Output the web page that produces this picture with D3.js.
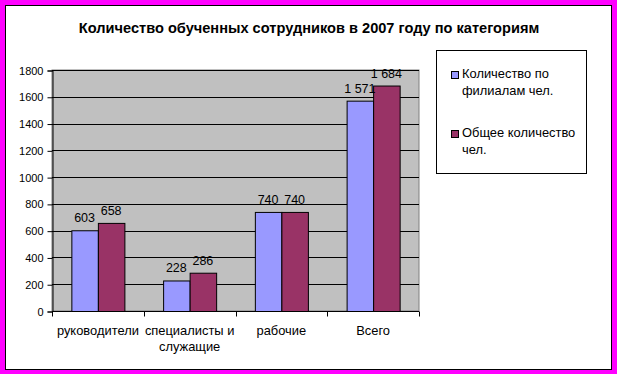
<!DOCTYPE html>
<html>
<head>
<meta charset="utf-8">
<script src="https://cdn.jsdelivr.net/npm/d3@7"></script>
<style>
    body { margin: 0; background: #ff00ff; }
    svg text { font-family: "Liberation Sans", Arial, sans-serif; fill: #000; }
</style>
</head>
<body>
<div id="chart"></div>
<script>
var categories = ["руководители", "специалисты и служащие", "рабочие", "Всего"];
var seriesNames = ["Количество по филиалам чел.", "Общее количество чел."];
var branchValues = [603, 228, 740, 1571];
var totalValues = [658, 286, 740, 1684];
var yTicks = [0, 200, 400, 600, 800, 1000, 1200, 1400, 1600, 1800];
var colors = ["#9999ff", "#993366"];

var W = 617, H = 374;
var plot = { left: 52, right: 419, top: 70, bottom: 311 };

var svg = d3.select("#chart").append("svg")
    .attr("width", W)
    .attr("height", H);

// magenta frame + white chart area
svg.append("rect").attr("width", W).attr("height", H).attr("fill", "#ff00ff");
svg.append("rect")
    .attr("x", 5.5).attr("y", 5.5)
    .attr("width", 606).attr("height", 364)
    .attr("fill", "#fff").attr("stroke", "#000");

svg.append("text")
    .attr("x", 309).attr("y", 33)
    .attr("text-anchor", "middle")
    .style("font-size", "14.6px")
    .style("font-weight", "bold")
    .text("Количество обученных сотрудников в 2007 году по категориям");

var y = d3.scaleLinear().domain([0, 1800]).range([plot.bottom, plot.top]);
var x0 = d3.scaleBand().domain(categories).range([plot.left, plot.right]);
var x1 = d3.scaleBand().domain([0, 1]).range([0, x0.bandwidth()])
    .paddingInner(0).paddingOuter(0.73);

var fmt = d3.formatLocale({ decimal: ",", thousands: " ", grouping: [3], currency: ["", ""] }).format(",d");

svg.append("rect")
    .attr("x", plot.left).attr("y", plot.top)
    .attr("width", plot.right - plot.left).attr("height", plot.bottom - plot.top)
    .attr("fill", "#c0c0c0").attr("stroke", "#808080");

// gridlines
svg.append("g").selectAll("line")
    .data(yTicks.slice(1))
  .enter().append("line")
    .attr("x1", plot.left).attr("x2", plot.right)
    .attr("y1", function(d) { return Math.round(y(d)) + 0.5; })
    .attr("y2", function(d) { return Math.round(y(d)) + 0.5; })
    .attr("stroke", "#000");

var yAxis = svg.append("g")
    .attr("transform", "translate(" + (plot.left + 0.5) + ",0.5)")
    .call(d3.axisLeft(y).tickValues(yTicks).tickSize(5).tickPadding(4).tickFormat(d3.format("d")));
yAxis.selectAll("text").style("font-size", "11px");

var xAxis = svg.append("g")
    .attr("transform", "translate(0," + (plot.bottom + 0.5) + ")");
xAxis.append("line")
    .attr("x1", plot.left).attr("x2", plot.right)
    .attr("stroke", "#000");
xAxis.selectAll("line.tick")
    .data(categories.concat([null]))
  .enter().append("line")
    .attr("class", "tick")
    .attr("x1", function(d, i) { return Math.round(plot.left + i * x0.step()) + 0.5; })
    .attr("x2", function(d, i) { return Math.round(plot.left + i * x0.step()) + 0.5; })
    .attr("y1", 0).attr("y2", 5)
    .attr("stroke", "#000");
svg.selectAll(".domain").attr("stroke", "#000");

function wrap(sel, width, lineHeight) {
    sel.each(function() {
        var text = d3.select(this);
        var words = text.text().split(/\s+/);
        var xPos = text.attr("x");
        var line = [];
        text.text(null);
        var tspan = text.append("tspan").attr("x", xPos);
        words.forEach(function(w) {
            line.push(w);
            tspan.text(line.join(" "));
            if (tspan.node().getComputedTextLength() > width && line.length > 1) {
                line.pop();
                tspan.text(line.join(" "));
                line = [w];
                tspan = text.append("tspan").attr("x", xPos).attr("dy", lineHeight).text(w);
            }
        });
    });
}

svg.append("g").selectAll("text")
    .data(categories)
  .enter().append("text")
    .attr("x", function(d) { return x0(d) + x0.bandwidth() / 2; })
    .attr("y", 335)
    .attr("text-anchor", "middle")
    .style("font-size", "12.9px")
    .text(function(d) { return d; })
    .call(wrap, x0.bandwidth(), 16);

var rows = categories.map(function(c, i) {
    return { cat: c, vals: [branchValues[i], totalValues[i]] };
});

var groups = svg.append("g").selectAll("g")
    .data(rows)
  .enter().append("g")
    .attr("transform", function(d) { return "translate(" + x0(d.cat) + ",0)"; });

groups.selectAll("rect")
    .data(function(d) { return d.vals; })
  .enter().append("rect")
    .attr("x", function(d, i) { return x1(i) + 0.5; })
    .attr("y", function(d) { return y(d) + 0.5; })
    .attr("width", x1.bandwidth())
    .attr("height", function(d) { return plot.bottom - y(d); })
    .attr("fill", function(d, i) { return colors[i]; })
    .attr("stroke", "#000");

groups.selectAll("text")
    .data(function(d) { return d.vals; })
  .enter().append("text")
    .attr("x", function(d, i) { return x1(i) + x1.bandwidth() / 2; })
    .attr("y", function(d) { return y(d) - 8; })
    .attr("text-anchor", "middle")
    .style("font-size", "12.5px")
    .text(function(d) { return fmt(d); });

// legend
var legend = svg.append("g");
legend.append("rect")
    .attr("x", 436.5).attr("y", 50.5)
    .attr("width", 150).attr("height", 123)
    .attr("fill", "#fff").attr("stroke", "#000");

var legendY = [78, 137];
seriesNames.forEach(function(name, i) {
    legend.append("rect")
        .attr("x", 451.5).attr("y", legendY[i] - 6.5)
        .attr("width", 7).attr("height", 7)
        .attr("fill", colors[i]).attr("stroke", "#000");
    legend.append("text")
        .attr("x", 462).attr("y", legendY[i])
        .style("font-size", "12.9px")
        .text(name)
        .call(wrap, 118, 17);
});
</script>
</body>
</html>
